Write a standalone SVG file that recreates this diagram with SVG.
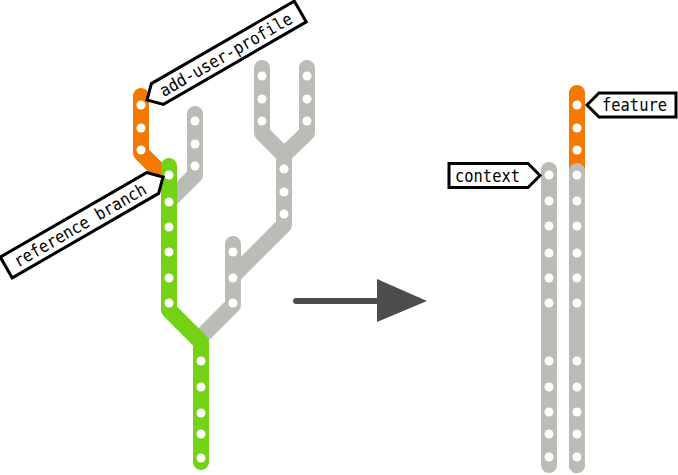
<svg xmlns="http://www.w3.org/2000/svg" width="678" height="475" viewBox="0 0 678 475">
<style>
.ln{fill:none;stroke-width:16;stroke-linecap:round;stroke-linejoin:round}
.gray{stroke:#babdb6}
.orange{stroke:#f57900}
.green{stroke:#73d216}
.dot{fill:#ffffff}
.lbl{fill:#ffffff;stroke:#000000;stroke-width:3;stroke-linejoin:miter}
.txt{font-family:"DejaVu Sans Mono","Liberation Mono",monospace;font-size:17px;fill:#000000}
</style>
<defs>
<circle id="d" r="4.5" class="dot"/>
</defs>

<g id="branch-gray-1">
<path class="ln gray" d="M195,114 V175 L169,201"/>
<use href="#d" x="195" y="121"/><use href="#d" x="195" y="144"/><use href="#d" x="195" y="166"/>
</g>
<g id="branch-gray-Y">
<path class="ln gray" d="M262,68 V133 L284,155 V225 L233,276"/>
<path class="ln gray" d="M307,68 V133 L284,155"/>
<use href="#d" x="262" y="76"/><use href="#d" x="262" y="99"/><use href="#d" x="262" y="121"/>
<use href="#d" x="307" y="76"/><use href="#d" x="307" y="99"/><use href="#d" x="307" y="121"/>
<use href="#d" x="284" y="169"/><use href="#d" x="284" y="192"/><use href="#d" x="284" y="214"/>
</g>
<g id="branch-gray-2">
<path class="ln gray" d="M233,244 V305 L202,336"/>
<use href="#d" x="233" y="252"/><use href="#d" x="233" y="278"/><use href="#d" x="233" y="303"/>
</g>
<g id="branch-add-user-profile">
<path class="ln orange" d="M141,96 V153 L169,181"/>
<use href="#d" x="141" y="105"/><use href="#d" x="141" y="128"/><use href="#d" x="141" y="150"/>
</g>
<g id="branch-reference">
<path class="ln green" d="M169,166 V310 L201,342 V462"/>
<use href="#d" x="169" y="175"/><use href="#d" x="169" y="202"/><use href="#d" x="169" y="227"/>
<use href="#d" x="169" y="252"/><use href="#d" x="169" y="278"/><use href="#d" x="169" y="303"/>
<use href="#d" x="201" y="361"/><use href="#d" x="201" y="387"/><use href="#d" x="201" y="413"/>
<use href="#d" x="201" y="434"/><use href="#d" x="201" y="458"/>
</g>

<g id="label-add-user-profile" transform="translate(147,100) rotate(-30)">
<path class="lbl" d="M0,0 L12,-12 L177,-12 L177,12 L12,12 Z"/>
<text class="txt" x="16" y="6" textLength="150" lengthAdjust="spacingAndGlyphs">add-user-profile</text>
</g>
<g id="label-reference-branch" transform="translate(163,177) rotate(-30)">
<path class="lbl" d="M0,0 L-12,-12 L-181,-12 L-181,12 L-12,12 Z"/>
<text class="txt" x="-171" y="6" textLength="150" lengthAdjust="spacingAndGlyphs">reference branch</text>
</g>

<g id="connectors">
<line x1="296" y1="301" x2="380" y2="301" stroke="#4d4d4d" stroke-width="6" stroke-linecap="round"/>
<polygon points="377,279 427,301 377,322" fill="#4d4d4d"/>
</g>

<g id="column-context">
<path class="ln gray" d="M549,170 V465"/>
</g>
<g id="column-feature">
<path class="ln orange" d="M577,93 V465"/>
<path class="ln gray" d="M577,171 V465"/>
<use href="#d" x="577" y="105"/><use href="#d" x="577" y="128"/><use href="#d" x="577" y="150"/>
</g>
<g id="column-dots">
<use href="#d" x="549" y="175"/><use href="#d" x="549" y="201"/><use href="#d" x="549" y="226"/><use href="#d" x="549" y="253"/>
<use href="#d" x="549" y="278"/><use href="#d" x="549" y="303"/><use href="#d" x="549" y="361"/><use href="#d" x="549" y="387"/>
<use href="#d" x="549" y="412"/><use href="#d" x="549" y="434"/><use href="#d" x="549" y="457"/>
<use href="#d" x="577" y="175"/><use href="#d" x="577" y="201"/><use href="#d" x="577" y="226"/><use href="#d" x="577" y="253"/>
<use href="#d" x="577" y="278"/><use href="#d" x="577" y="303"/><use href="#d" x="577" y="361"/><use href="#d" x="577" y="387"/>
<use href="#d" x="577" y="412"/><use href="#d" x="577" y="434"/><use href="#d" x="577" y="457"/>
</g>

<g id="label-feature">
<path class="lbl" d="M587,105 L599,93 L676,93 L676,117 L599,117 Z"/>
<text class="txt" x="602" y="111" textLength="65" lengthAdjust="spacingAndGlyphs">feature</text>
</g>
<g id="label-context">
<path class="lbl" d="M540,175.5 L528,163.5 L449,163.5 L449,187.5 L528,187.5 Z"/>
<text class="txt" x="455" y="181.5" textLength="65" lengthAdjust="spacingAndGlyphs">context</text>
</g>
</svg>
